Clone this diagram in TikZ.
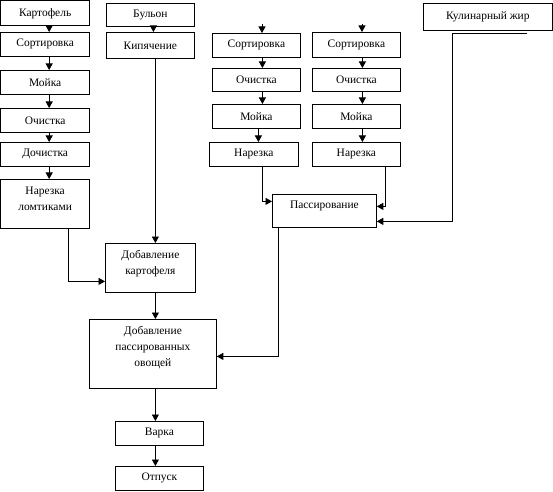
\documentclass[tikz,border=0pt]{standalone}
\usepackage{fontspec}
\setmainfont{Liberation Serif}
\newfontfamily\tnr{Liberation Serif}
\usetikzlibrary{arrows.meta}
\begin{document}
\begin{tikzpicture}[x=1bp,y=-1bp,
  box/.style={draw, line width=0.8bp, anchor=north west, inner sep=1bp, align=center,
    minimum width=88bp, minimum height=24bp, font=\tnr\fontsize{11.5}{16}\selectfont},
  txt/.style={inner sep=0pt, align=center, font=\tnr\fontsize{11.5}{16}\selectfont},
  arr/.style={line width=0.8bp, -{Triangle[length=6.5bp,width=7bp]}}]
\useasboundingbox (0,0) rectangle (553,492);
% left column
\node[box, minimum width=88.5bp, minimum height=25bp] (kart) at (0.5,0.5) {Картофель};
\node[box, minimum width=88.5bp] (sort1) at (0.5,32) {Сортировка};
\node[box, minimum width=88.5bp] (moi1) at (0.5,70) {Мойка};
\node[box, minimum width=88.5bp] (och1) at (0.5,108) {Очистка};
\node[box, minimum width=88.5bp] (doch) at (0.5,142) {Дочистка};
\node[box, minimum width=88.5bp, minimum height=49bp] (narL) at (0.5,179) {};
\node[txt] (narLt) at ([yshift=5.5bp]narL.center) {Нарезка\\ломтиками};
% broth
\node[box, minimum height=23bp] (bul) at (106,3) {Бульон};
\node[box, minimum height=26bp] (kip) at (106,32) {Кипячение};
% column A
\node[box] (sortA) at (212,33) {Сортировка};
\node[box, minimum height=23bp] (ochA) at (212,68) {Очистка};
\node[box] (moiA) at (212,104) {Мойка};
\node[box, minimum width=89bp] (narA) at (209,142) {Нарезка};
% column B
\node[box, minimum height=25bp] (sortB) at (312,32) {Сортировка};
\node[box, minimum height=23bp] (ochB) at (312,68) {Очистка};
\node[box] (moiB) at (312,104) {Мойка};
\node[box] (narB) at (312,142) {Нарезка};
% frying
\node[box, minimum width=104bp, minimum height=33bp] (pass) at (272,194) {};
\node[txt] (passt) at ([yshift=5bp]pass.center) {Пассирование};
\node[box, minimum width=129bp, minimum height=27bp] (kul) at (423,3) {Кулинарный жир};
% lower part
\node[box, minimum width=90bp, minimum height=49bp] (dk) at (105,243) {};
\node[txt] (dkt) at ([yshift=4bp]dk.center) {Добавление\\картофеля};
\node[box, minimum width=127bp, minimum height=69bp] (dpo) at (89,319) {};
\node[txt] (dpot) at ([yshift=6.5bp]dpo.center) {Добавление\\пассированных\\овощей};
\node[box] (var) at (115,421) {Варка};
\node[box] (otp) at (115,466) {Отпуск};
% arrows left column
\draw[arr] ([xshift=4bp]kart.south) -- ([xshift=4bp]sort1.north);
\draw[arr] ([xshift=4bp]sort1.south) -- ([xshift=4bp]moi1.north);
\draw[arr] ([xshift=4bp]moi1.south) -- ([xshift=4bp]och1.north);
\draw[arr] ([xshift=4bp]och1.south) -- ([xshift=4bp]doch.north);
\draw[arr] ([xshift=4bp]doch.south) -- ([xshift=4bp]narL.north);
\draw[arr] ([xshift=23bp]narL.south) |- ([yshift=-13.5bp]dk.west);
% broth
\draw[arr] ([xshift=3bp]bul.south) -- ([xshift=3bp]kip.north);
\draw[arr] ([xshift=5bp]kip.south) -- ([xshift=5bp]dk.north);
% incoming stubs
\coordinate (inA) at (262,24);
\coordinate (inB) at (362,24);
\draw[arr] (inA) -- (inA |- sortA.north);
\draw[arr] (inB) -- (inB |- sortB.north);
% column A
\draw[arr] ([xshift=6bp]sortA.south) -- ([xshift=6bp]ochA.north);
\draw[arr] ([xshift=6bp]ochA.south) -- ([xshift=6bp]moiA.north);
\draw[arr] ([xshift=2bp]moiA.south) -- ([xshift=2bp]moiA.south |- narA.north);
% column B
\draw[arr] ([xshift=6bp]sortB.south) -- ([xshift=6bp]ochB.north);
\draw[arr] ([xshift=6bp]ochB.south) -- ([xshift=6bp]moiB.north);
\draw[arr] ([xshift=6bp]moiB.south) -- ([xshift=6bp]narB.north);
% into frying
\draw[arr] ([xshift=8.5bp]narA.south) |- ([yshift=9.5bp]pass.west);
\draw[arr] ([xshift=29bp]narB.south) |- ([yshift=4.5bp]pass.east);
\coordinate (kulA) at (527,33);
\coordinate (kulB) at (452,33);
\draw[arr] (kulA) -- (kulB) |- ([yshift=-10.5bp]pass.east);
% frying to soup
\draw[arr] ([xshift=16bp]pass.south) -- ([xshift=-46bp]pass.south) |- ([yshift=-2.5bp]dpo.east);
\draw[arr] ([xshift=5bp]dk.south) -- ([xshift=5bp]dk.south |- dpo.north);
\draw[arr] ([xshift=2.5bp]dpo.south) -- ([xshift=2.5bp]dpo.south |- var.north);
\draw[arr] ([xshift=-4bp]var.south) -- ([xshift=-4bp]otp.north);
\end{tikzpicture}
\end{document}
